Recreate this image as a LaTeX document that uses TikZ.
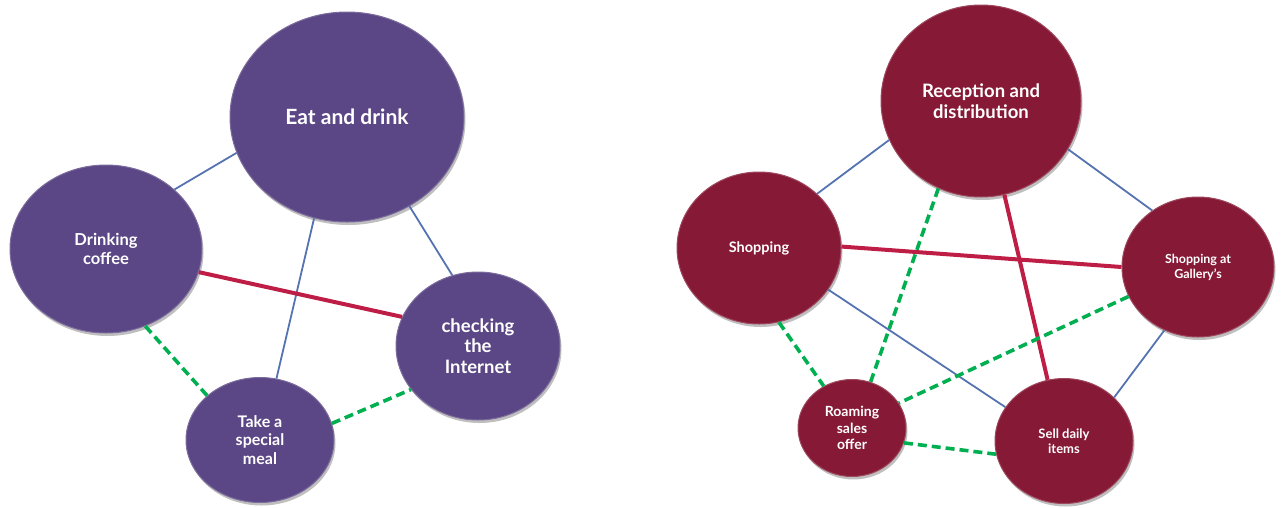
\documentclass[tikz,border=0pt]{standalone}
\usepackage{fontspec}
\setmainfont{Lato}
\usetikzlibrary{shapes.geometric,shadows}
\definecolor{purp}{RGB}{91,71,133}
\definecolor{wine}{RGB}{134,26,54}
\definecolor{linkblue}{RGB}{85,115,176}
\definecolor{linkred}{RGB}{190,30,69}
\definecolor{linkgreen}{RGB}{0,176,80}
\begin{document}
\begin{tikzpicture}[x=1pt,y=-1pt,
  bub/.style={ellipse, inner sep=0pt, align=center, text=white,
    drop shadow={shadow xshift=1.5pt, shadow yshift=-3pt, opacity=0.25, fill=black}},
  pbub/.style={bub, fill=purp, draw=purp!80!white, line width=1pt},
  wbub/.style={bub, fill=wine, draw=wine!80!white, line width=1pt},
  fsz/.style n args={2}{font=\bfseries\fontsize{#1}{#2}\selectfont},
  weak/.style={draw=linkblue, line width=1.8pt},
  strong/.style={draw=linkred, line width=4pt},
  dashlink/.style={draw=linkgreen, line width=3.6pt, dash pattern=on 9pt off 5pt},
]
\useasboundingbox (0,0) rectangle (1286,507);

% left diagram
\node[pbub, fsz={21}{24}, minimum width=234pt, minimum height=210pt] (eat) at (347,117)
  {Eat and drink};
\node[pbub, fsz={16.5}{19}, minimum width=192pt, minimum height=168pt] (coffee) at (106,249)
  {Drinking\\coffee};
\node[pbub, fsz={18.5}{20.5}, minimum width=164pt, minimum height=148pt] (net) at (478,346)
  {checking\\the\\Internet};
\node[pbub, fsz={16}{18.5}, minimum width=148pt, minimum height=125pt] (meal) at (260,440)
  {Take a\\special\\meal};

\draw[weak] (eat.198) -- (coffee.41);
\draw[weak] (eat.252) -- (meal.75);
\draw[weak] (eat.305) -- (net.110);
\draw[strong] (coffee.-14) -- (net.159);
\draw[dashlink] (coffee.-63) -- (meal.140);
\draw[dashlink] (meal.13) -- (net.213);

% right diagram
\node[wbub, fsz={18.5}{21}, minimum width=200pt, minimum height=192pt] (rec) at (981,101)
  {Reception and\\distribution};
\node[wbub, fsz={14.5}{16}, minimum width=164pt, minimum height=152pt] (shop) at (759,248)
  {Shopping};
\node[wbub, fsz={12.5}{15}, minimum width=152pt, minimum height=140pt] (gal) at (1198,267)
  {Shopping at\\Gallery's};
\node[wbub, fsz={14}{16.5}, minimum width=108pt, minimum height=97pt] (roam) at (852,428)
  {Roaming\\sales\\offer};
\node[wbub, fsz={13}{15}, minimum width=138pt, minimum height=125pt] (sell) at (1064,441)
  {Sell daily\\items};

\draw[weak] (rec.203) -- (shop.43);
\draw[weak] (rec.-29) -- (gal.129);
\draw[dashlink] (rec.244) -- (roam.68);
\draw[strong] (rec.-76) -- (sell.105);
\draw[strong] (shop.1) -- (gal.180);
\draw[weak] (shop.-31) -- (sell.150);
\draw[dashlink] (shop.-75) -- (roam.124);
\draw[dashlink] (gal.203) -- (roam.28);
\draw[weak] (gal.242) -- (sell.41);
\draw[dashlink] (roam.-16) -- (sell.191);
\end{tikzpicture}
\end{document}
